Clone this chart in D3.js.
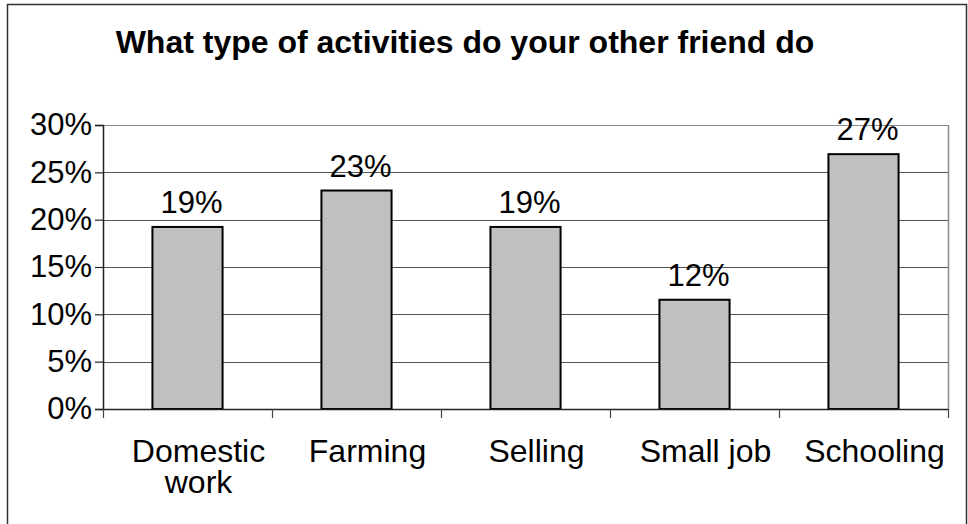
<!DOCTYPE html>
<html>
<head>
<meta charset="utf-8">
<script src="https://cdn.jsdelivr.net/npm/d3@7"></script>
<style>
  body { margin: 0; background: #fff; }
  text { font-family: "Liberation Sans", Arial, sans-serif; }
</style>
</head>
<body>
<div id="chart"></div>
<script>
// data
const categories = ["Domestic work", "Farming", "Selling", "Small job", "Schooling"];
const catLines = [["Domestic", "work"], ["Farming"], ["Selling"], ["Small job"], ["Schooling"]];
const values = [19.23, 23.08, 19.23, 11.54, 26.92];
const yTicks = [0, 5, 10, 15, 20, 25, 30];

const width = 968;
const height = 524;

// plot area
const pLeft = 103, pRight = 948, pTop = 125, pBottom = 409;

const svg = d3.select("#chart").append("svg")
    .attr("width", width)
    .attr("height", height)

// outer frame
svg.append("rect")
    .attr("x", 7.5).attr("y", 4.5)
    .attr("width", 959).attr("height", 530)
    .attr("fill", "none")
    .attr("stroke", "#333")
    .attr("stroke-width", 1.5)

svg.append("text")
    .attr("x", 465)
    .attr("y", 53)
    .attr("text-anchor", "middle")
    .attr("font-size", "32px")
    .attr("font-weight", "bold")
    .text("What type of activities do your other friend do")

const x = d3.scaleBand()
    .domain(categories)
    .range([pLeft, pRight])
    .padding(0)

const y = d3.scaleLinear()
    .domain([0, 30])
    .range([pBottom, pTop])

// gridlines
svg.selectAll(".grid")
    .data(yTicks.slice(1))
    .enter()
    .append("line")
    .attr("x1", pLeft).attr("x2", pRight)
    .attr("y1", d => Math.round(y(d)) + 0.5)
    .attr("y2", d => Math.round(y(d)) + 0.5)
    .attr("stroke", d => d == 30 ? "#8c8c8c" : "#555")
    .attr("stroke-width", 1.2)

// right border of plot
svg.append("line")
    .attr("x1", pRight + 0.5).attr("x2", pRight + 0.5)
    .attr("y1", pTop).attr("y2", pBottom)
    .attr("stroke", "#8c8c8c")
    .attr("stroke-width", 1.5)

// bars
const barW = x.bandwidth() * 0.415
svg.selectAll(".bar")
    .data(values)
    .enter()
    .append("rect")
    .attr("x", (d, i) => x(categories[i]) + (x.bandwidth() - barW) / 2)
    .attr("y", d => y(d))
    .attr("width", barW)
    .attr("height", d => pBottom - y(d))
    .attr("fill", "#c0c0c0")
    .attr("stroke", "#000")
    .attr("stroke-width", 2)

// value labels
svg.selectAll(".lbl")
    .data(values)
    .enter()
    .append("text")
    .attr("x", (d, i) => x(categories[i]) + x.bandwidth() / 2 + 4)
    .attr("y", d => y(d) - 14)
    .attr("text-anchor", "middle")
    .attr("font-size", "31px")
    .text(d => Math.round(d) + "%")

// y axis
const yAxis = svg.append("g")
    .attr("transform", "translate(" + pLeft + ",0)")
    .call(d3.axisLeft(y).tickValues(yTicks).tickSize(8).tickPadding(3).tickFormat(d => d + "%"))
yAxis.select(".domain").attr("stroke", "#222").attr("stroke-width", 1.5)
yAxis.selectAll(".tick line").attr("stroke", "#222").attr("stroke-width", 1.2)
yAxis.selectAll(".tick text")
    .attr("font-size", "31px")
    .attr("font-family", "Liberation Sans, Arial, sans-serif")
    .attr("fill", "#000")

// x axis line and ticks at category boundaries
const xb = categories.map(c => x(c)).concat([pRight])
svg.append("line")
    .attr("x1", pLeft).attr("x2", pRight)
    .attr("y1", pBottom + 0.5).attr("y2", pBottom + 0.5)
    .attr("stroke", "#222")
    .attr("stroke-width", 1.5)
svg.selectAll(".xt")
    .data(xb)
    .enter()
    .append("line")
    .attr("x1", d => d + 0.5).attr("x2", d => d + 0.5)
    .attr("y1", pBottom).attr("y2", pBottom + 9)
    .attr("stroke", "#444")
    .attr("stroke-width", 1.2)

// category labels
svg.selectAll(".cat")
    .data(catLines)
    .enter()
    .append("text")
    .attr("text-anchor", "middle")
    .attr("font-size", "32px")
    .attr("x", (d, i) => x(categories[i]) + x.bandwidth() / 2 + 11)
    .attr("y", 462)
    .each(function(d) {
      const t = d3.select(this)
      d.forEach((s, k) => {
        t.append("tspan")
          .attr("x", t.attr("x"))
          .attr("dy", k == 0 ? 0 : 31)
          .text(s)
      })
    })
</script>
</body>
</html>
